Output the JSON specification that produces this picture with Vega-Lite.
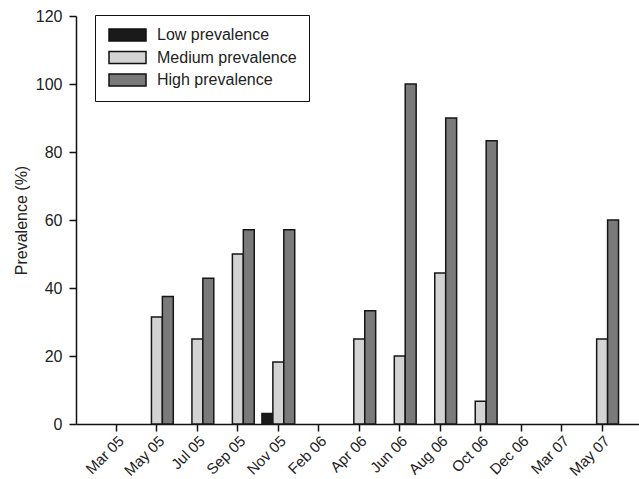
{
  "$schema": "https://vega.github.io/schema/vega-lite/v6.json",
  "autosize": "none",
  "padding": {"left": 76, "top": 16, "right": 0, "bottom": 55},
  "width": 563,
  "height": 408,
  "background": "white",
  "config": {
    "view": {"stroke": null},
    "font": "Liberation Sans",
    "axis": {"domainColor": "#111", "domainWidth": 1.5, "tickColor": "#111", "tickWidth": 1.5, "tickSize": 7, "labelColor": "#222", "titleColor": "#222", "grid": false, "labelFont": "Liberation Sans", "titleFont": "Liberation Sans"}
  },
  "data": {
    "values": [
      {"month": "May 05", "group": "Medium prevalence", "prev": 31.5},
      {"month": "May 05", "group": "High prevalence", "prev": 37.5},
      {"month": "Jul 05", "group": "Medium prevalence", "prev": 25},
      {"month": "Jul 05", "group": "High prevalence", "prev": 42.9},
      {"month": "Sep 05", "group": "Medium prevalence", "prev": 50},
      {"month": "Sep 05", "group": "High prevalence", "prev": 57.1},
      {"month": "Nov 05", "group": "Low prevalence", "prev": 3.1},
      {"month": "Nov 05", "group": "Medium prevalence", "prev": 18.2},
      {"month": "Nov 05", "group": "High prevalence", "prev": 57.1},
      {"month": "Apr 06", "group": "Medium prevalence", "prev": 25},
      {"month": "Apr 06", "group": "High prevalence", "prev": 33.3},
      {"month": "Jun 06", "group": "Medium prevalence", "prev": 20},
      {"month": "Jun 06", "group": "High prevalence", "prev": 100},
      {"month": "Aug 06", "group": "Medium prevalence", "prev": 44.4},
      {"month": "Aug 06", "group": "High prevalence", "prev": 90},
      {"month": "Oct 06", "group": "Medium prevalence", "prev": 6.7},
      {"month": "Oct 06", "group": "High prevalence", "prev": 83.3},
      {"month": "May 07", "group": "Medium prevalence", "prev": 25},
      {"month": "May 07", "group": "High prevalence", "prev": 60}
    ]
  },
  "mark": {"type": "bar", "stroke": "#161616", "strokeWidth": 1.5},
  "encoding": {
    "x": {
      "field": "month",
      "type": "ordinal",
      "sort": null,
      "scale": {
        "domain": ["Mar 05", "May 05", "Jul 05", "Sep 05", "Nov 05", "Feb 06", "Apr 06", "Jun 06", "Aug 06", "Oct 06", "Dec 06", "Mar 07", "May 07"],
        "paddingInner": 0.19,
        "paddingOuter": 0.55,
        "align": 0.54
      },
      "axis": {"title": null, "labelAngle": -45, "labelAlign": "right", "labelBaseline": "top", "labelFontSize": 15, "labelPadding": 2}
    },
    "xOffset": {
      "field": "group",
      "type": "nominal",
      "scale": {"domain": ["Low prevalence", "Medium prevalence", "High prevalence"], "paddingInner": 0, "paddingOuter": 0}
    },
    "y": {
      "field": "prev",
      "type": "quantitative",
      "scale": {"domain": [0, 120], "nice": false},
      "axis": {"title": "Prevalence (%)", "values": [0, 20, 40, 60, 80, 100, 120], "labelFontSize": 16, "titleFontSize": 16, "titleFontWeight": "normal", "labelPadding": 7, "titlePadding": 6}
    },
    "color": {
      "field": "group",
      "type": "nominal",
      "scale": {"domain": ["Low prevalence", "Medium prevalence", "High prevalence"], "range": ["#1a1a1a", "#d3d3d3", "#7a7a7a"]},
      "legend": {
        "title": null,
        "orient": "none",
        "legendX": 19,
        "legendY": -1,
        "direction": "vertical",
        "symbolType": "M-1,-1H5.1667V1H-1Z",
        "symbolSize": 144,
        "symbolStrokeColor": "#111",
        "symbolStrokeWidth": 1.5,
        "symbolOpacity": 1,
        "labelFontSize": 16,
        "labelColor": "#222",
        "labelOffset": 34,
        "rowPadding": 4.5,
        "padding": 12,
        "strokeColor": "#111",
        "fillColor": "white",
        "labelLimit": 300
      }
    }
  }
}
